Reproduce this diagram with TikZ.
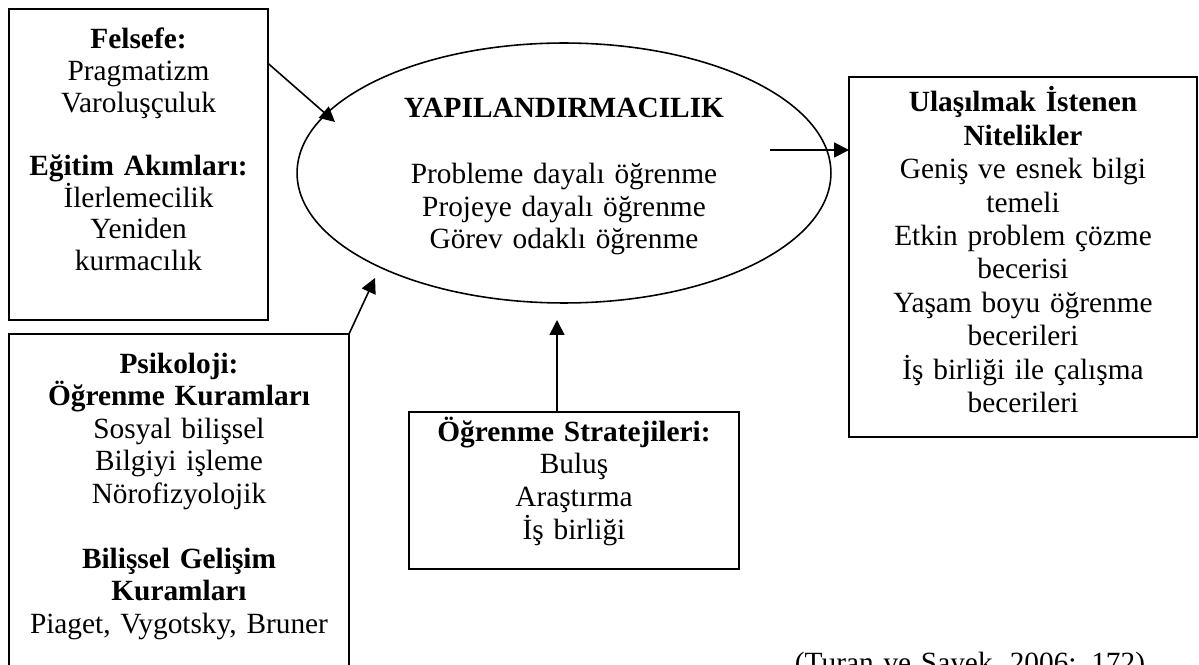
\documentclass[tikz,border=0pt]{standalone}
\usepackage{fontspec}
\setmainfont{Liberation Serif}
\usetikzlibrary{arrows.meta,shapes.geometric}

\tikzset{
  kutu/.style={draw, line width=1pt, inner sep=0pt, outer sep=0pt},
  yazi/.style={align=center, inner sep=0pt, anchor=base, font=\fontsize{16.7pt}{#1}\selectfont},
  yazi/.default=18.6pt,
  ok/.style={line width=0.9pt, -{Triangle[length=0.3cm,width=0.3cm]}}
}

\begin{document}
\begin{tikzpicture}[x=0.02cm, y=-0.02cm]
  %%%%% START %%%%%
  \useasboundingbox (0,0) rectangle (1199,665);

  % felsefe
  \node[kutu, minimum width=5.18cm, minimum height=6.22cm] (felsefe) at (138.5,164.5) {};
  \node[yazi=18pt, text width=5cm] (felsefeYazi) at (138.5,49)
    {\textbf{Felsefe:}\\ Pragmatizm\\ Varoluşçuluk\\[18pt]
     \textbf{Eğitim Akımları:}\\ İlerlemecilik\\ Yeniden\\ kurmacılık};

  % psikoloji
  \node[kutu, minimum width=6.8cm, minimum height=7.32cm] (psiko) at (179,517) {};
  \node[yazi=18.5pt, text width=6.6cm] (psikoYazi) at (179,373)
    {\textbf{Psikoloji:}\\ \textbf{Öğrenme Kuramları}\\ Sosyal bilişsel\\ Bilgiyi işleme\\ Nörofizyolojik\\[18.5pt]
     \textbf{Bilişsel Gelişim}\\ \textbf{Kuramları}\\ Piaget, Vygotsky, Bruner};

  % yapilandirmacilik
  \node[draw, ellipse, line width=0.9pt, inner sep=0pt, outer sep=0pt,
        minimum width=10.68cm, minimum height=5.2cm] (yapi) at (564,173) {};
  \node[yazi=18.6pt, text width=8cm] (yapiYazi) at (564,118)
    {\textbf{YAPILANDIRMACILIK}\\[18.6pt]
     Probleme dayalı öğrenme\\ Projeye dayalı öğrenme\\ Görev odaklı öğrenme};

  % nitelikler
  \node[kutu, minimum width=6.96cm, minimum height=7.2cm] (nitelik) at (1023,257) {};
  \node[yazi=19pt, text width=6.8cm] (nitelikYazi) at (1023,112)
    {\textbf{Ulaşılmak İstenen}\\ \textbf{Nitelikler}\\ Geniş ve esnek bilgi\\ temeli\\
     Etkin problem çözme\\ becerisi\\ Yaşam boyu öğrenme\\ becerileri\\
     İş birliği ile çalışma\\ becerileri};

  % stratejiler
  \node[kutu, minimum width=6.6cm, minimum height=3.14cm] (strat) at (574,490.5) {};
  \node[yazi, text width=6.4cm] (stratYazi) at (574,441)
    {\textbf{Öğrenme Stratejileri:}\\ Buluş\\ Araştırma\\ İş birliği};

  \node[yazi, text width=8.4cm] (kaynak) at (970,672) {(Turan ve Sayek, 2006: 172)};

  % oklar
  \coordinate (ucF) at (335,122);
  \coordinate (ucP) at (375,278);
  \coordinate (ucS) at (557,320);
  \coordinate (basN) at (770,150);
  \draw[ok] (felsefe.38.6) -- (ucF);
  \draw[ok] (psiko.north east) -- (ucP);
  \draw[ok] (strat.north -| ucS) -- (ucS);
  \draw[ok] (basN) -- (nitelik.west |- basN);
  %%%%% END %%%%%
\end{tikzpicture}
\end{document}
